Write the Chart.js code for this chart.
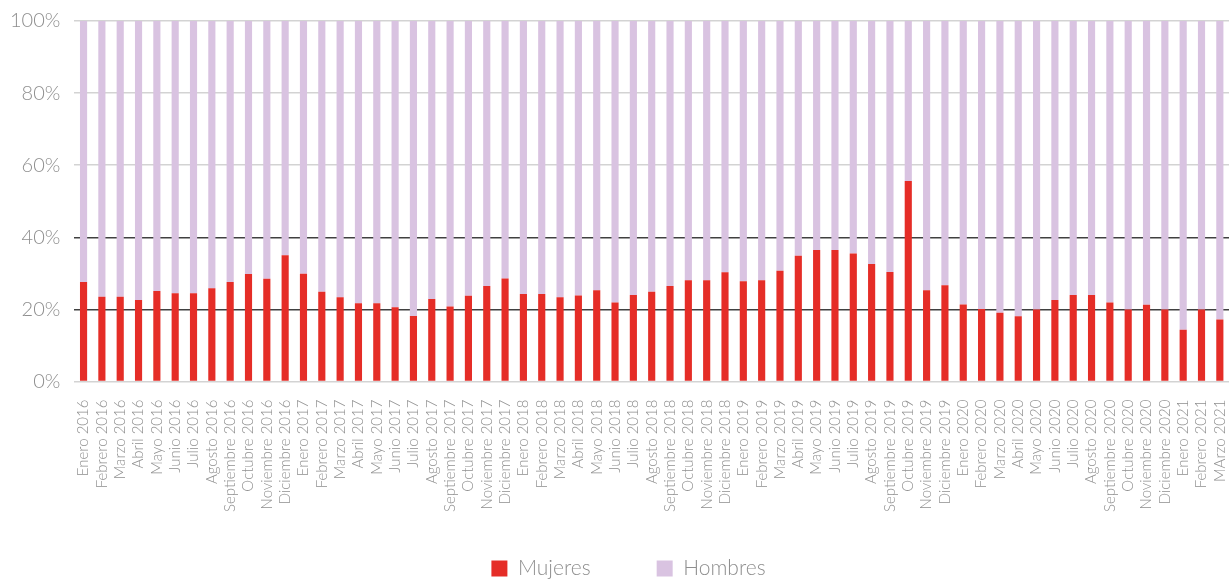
<!DOCTYPE html>
<html>
<head>
<meta charset="utf-8">
<script src="https://cdn.jsdelivr.net/npm/chart.js@4/dist/chart.umd.min.js"></script>
<style>
  html, body { margin: 0; padding: 0; background: #fff; }
  #wrap { width: 1229px; height: 579px; position: relative; }
</style>
</head>
<body>
<div id="wrap"><canvas id="genderChart"></canvas></div>
<script>
const labels = [
    'Enero 2016', 'Febrero 2016', 'Marzo 2016', 'Abril 2016', 'Mayo 2016', 'Junio 2016',
    'Julio 2016', 'Agosto 2016', 'Septiembre 2016', 'Octubre 2016', 'Noviembre 2016', 'Diciembre 2016',
    'Enero 2017', 'Febrero 2017', 'Marzo 2017', 'Abril 2017', 'Mayo 2017', 'Junio 2017',
    'Julio 2017', 'Agosto 2017', 'Septiembre 2017', 'Octubre 2017', 'Noviembre 2017', 'Diciembre 2017',
    'Enero 2018', 'Febrero 2018', 'Marzo 2018', 'Abril 2018', 'Mayo 2018', 'Junio 2018',
    'Julio 2018', 'Agosto 2018', 'Septiembre 2018', 'Octubre 2018', 'Noviembre 2018', 'Diciembre 2018',
    'Enero 2019', 'Febrero 2019', 'Marzo 2019', 'Abril 2019', 'Mayo 2019', 'Junio 2019',
    'Julio 2019', 'Agosto 2019', 'Septiembre 2019', 'Octubre 2019', 'Noviembre 2019', 'Diciembre 2019',
    'Enero 2020', 'Febrero 2020', 'Marzo 2020', 'Abril 2020', 'Mayo 2020', 'Junio 2020',
    'Julio 2020', 'Agosto 2020', 'Septiembre 2020', 'Octubre 2020', 'Noviembre 2020', 'Diciembre 2020',
    'Enero 2021', 'Febrero 2021', 'MArzo 2021'
];

// % mujeres por mes
const mujeres = [
    27.6, 23.5, 23.5, 22.6, 25.1, 24.5, 24.5, 25.9, 27.6, 29.8, 28.5, 35.0,
    29.9, 24.9, 23.4, 21.7, 21.7, 20.6, 18.2, 22.9, 20.8, 23.8, 26.5, 28.6,
    24.3, 24.3, 23.4, 23.9, 25.3, 21.9, 24.0, 24.9, 26.5, 28.1, 28.1, 30.3,
    27.8, 28.1, 30.7, 34.9, 36.5, 36.5, 35.5, 32.6, 30.4, 55.6, 25.3, 26.7,
    21.4, 20.1, 19.1, 18.1, 20.0, 22.6, 24.0, 24.0, 21.9, 20.0, 21.3, 20.0,
    14.4, 20.0, 17.2
];

// % hombres por mes
const hombres = [
    72.4, 76.5, 76.5, 77.4, 74.9, 75.5, 75.5, 74.1, 72.4, 70.2, 71.5, 65.0,
    70.1, 75.1, 76.6, 78.3, 78.3, 79.4, 81.8, 77.1, 79.2, 76.2, 73.5, 71.4,
    75.7, 75.7, 76.6, 76.1, 74.7, 78.1, 76.0, 75.1, 73.5, 71.9, 71.9, 69.7,
    72.2, 71.9, 69.3, 65.1, 63.5, 63.5, 64.5, 67.4, 69.6, 44.4, 74.7, 73.3,
    78.6, 79.9, 80.9, 81.9, 80.0, 77.4, 76.0, 76.0, 78.1, 80.0, 78.7, 80.0,
    85.6, 80.0, 82.8
];

const yTicks = [0, 20, 40, 60, 80, 100];

const textGray = '#8f8f8f';
const fontFamily = 'Lato, "Open Sans", sans-serif';
const legendGap = 66;
const legendLift = 30;

// legend: wide gap between items but little vertical room, nudged right
const legendTweak = {
    id: 'legendTweak',
    beforeInit(chart) {
        const lg = chart.legend;
        const origFit = lg.fit;
        lg.fit = function () {
            origFit.call(this);
            this.height -= legendLift;
        };
    },
    afterLayout(chart) {
        const lg = chart.legend;
        lg.top -= legendLift;
        lg.left += 14;
        lg.right += 14;
    }
};

const ctx = document.getElementById('genderChart').getContext('2d');
const genderChart = new Chart(ctx, {
    type: 'bar',
    data: {
        labels: labels,
        datasets: [{
            label: 'Mujeres',
            data: mujeres,
            backgroundColor: '#e52d27',
            barPercentage: 0.39,
            categoryPercentage: 1
        }, {
            label: 'Hombres',
            data: hombres,
            backgroundColor: '#d9c3e1',
            barPercentage: 0.39,
            categoryPercentage: 1
        }]
    },
    options: {
        responsive: true,
        maintainAspectRatio: false,
        animation: false,
        layout: {
            padding: { left: -4, right: -4, top: 21, bottom: -10 }
        },
        scales: {
            x: {
                stacked: true,
                grid: { display: false },
                border: { display: false },
                afterFit: function (scale) {
                    scale.paddingLeft = 0;
                    scale.paddingRight = 0;
                },
                ticks: {
                    color: textGray,
                    font: { family: fontFamily, size: 15, weight: '300' },
                    minRotation: 90,
                    maxRotation: 90,
                    autoSkip: false,
                    padding: 10
                }
            },
            y: {
                stacked: true,
                min: 0,
                max: 100,
                afterBuildTicks: function (axis) {
                    axis.ticks = yTicks.map(v => ({ value: v }));
                },
                afterFit: function (scale) {
                    scale.paddingTop = 0;
                },
                border: { display: false },
                grid: {
                    color: function (c) {
                        const v = c.tick ? c.tick.value : null;
                        return (v === 20 || v === 40) ? '#404040' : '#d3d3d3';
                    },
                    lineWidth: 1.5,
                    drawTicks: false
                },
                ticks: {
                    color: textGray,
                    font: { family: fontFamily, size: 20, weight: '300' },
                    padding: 14,
                    callback: function (value) { return value + '%'; }
                }
            }
        },
        plugins: {
            legend: {
                display: true,
                position: 'bottom',
                labels: {
                    color: textGray,
                    font: { family: fontFamily, size: 21, weight: '300' },
                    boxWidth: 16,
                    boxHeight: 16,
                    padding: legendGap
                }
            },
            tooltip: { enabled: false }
        }
    },
    plugins: [legendTweak]
});
</script>
</body>
</html>
